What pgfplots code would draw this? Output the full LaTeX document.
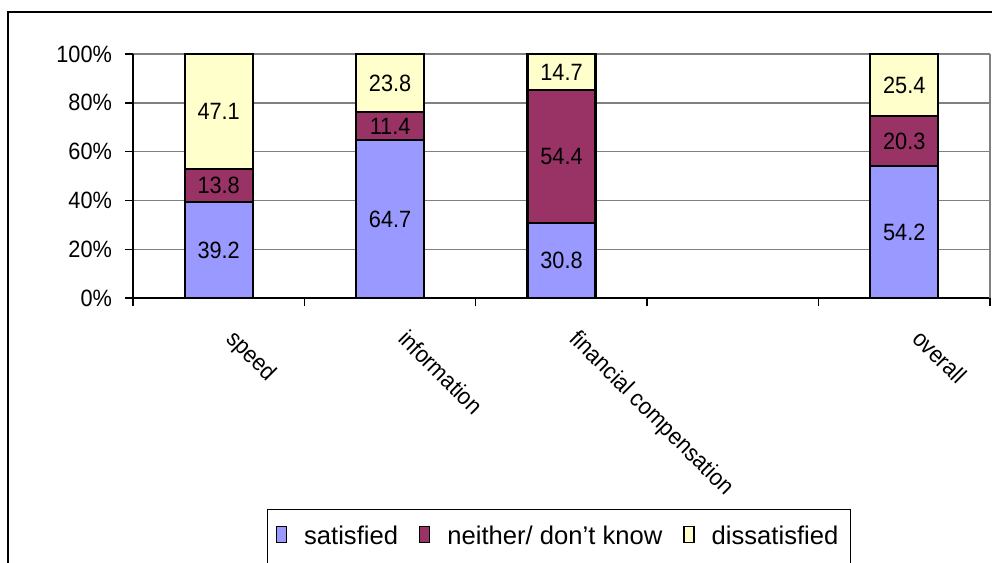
\documentclass[border=0pt]{standalone}
\usepackage{fontspec}
\setmainfont{Liberation Sans}
\newfontfamily\narrowsans{Liberation Sans}[FakeStretch=0.92]
\usepackage{pgfplots}
\pgfplotsset{compat=1.18}
\usepackage{pgfplotstable}

\definecolor{satblue}{HTML}{9999FF}
\definecolor{neiplum}{HTML}{993366}
\definecolor{disyellow}{HTML}{FFFFCC}

% share of respondents (%) per aspect; slot 3 is left empty
\pgfplotstableread{
x sat nei dis
0 39.2 13.8 47.1
1 64.7 11.4 23.8
2 30.8 54.4 14.7
4 54.2 20.3 25.4
}\satisfaction

\begin{document}
\begin{tikzpicture}
\begin{scope}
\clip (-66.5pt,-132.5pt) rectangle (429.5pt,149pt);
\draw[line width=0.7pt] (-62.5pt,143pt) rectangle (445pt,-145pt);
\begin{axis}[
  scale only axis, width=428.5pt, height=122pt,
  ybar stacked, bar width=34pt,
  xmin=-0.5, xmax=4.5, ymin=0, ymax=100,
  clip=false,
  axis lines*=left,
  axis line style={-, line width=0.7pt, black},
  xtick={-0.5,0.5,1.5,2.5,3.5,4.5},
  xticklabels={},
  extra x ticks={0,1,2,4},
  extra x tick labels={speed,information,financial compensation,overall},
  extra x tick style={major tick length=0pt, grid=none},
  ytick={0,20,...,100},
  yticklabel={\pgfmathprintnumber{\tick}\%},
  /pgf/number format/assume math mode=true,
  tick align=outside,
  major tick length=4pt,
  tick style={black, line width=0.7pt},
  ymajorgrids,
  major grid style={gray, line width=0.7pt},
  tick label style={font=\narrowsans\fontsize{11.8pt}{13pt}\selectfont},
  yticklabel style={xshift=-3pt},
  xticklabel style={xshift=9.5pt, yshift=-10pt, rotate=-45, anchor=north west},
  point meta=explicit symbolic,
  nodes near coords,
  every node near coord/.append style={
    font=\narrowsans\fontsize{11.8pt}{13pt}\selectfont, anchor=center},
  every axis plot/.append style={draw=black, line width=1.1pt},
  legend columns=3,
  legend style={at={(0.1564,-0.865)}, anchor=north west, draw=black,
    line width=0.7pt, inner xsep=4pt, inner ysep=6pt,
    font=\fontsize{12.8pt}{14pt}\selectfont,
    /tikz/every odd column/.append style={column sep=6.5pt},
    /tikz/every even column/.append style={column sep=8.5pt}},
  every axis plot post/.append style={
    legend image code/.code={\draw[#1, draw=black, line width=0.7pt] (0pt,-3pt) rectangle (5pt,5pt);}},
]
\addplot[fill=satblue] table[x=x, y=sat, meta=sat] {\satisfaction};
\addplot[fill=neiplum] table[x=x, y=nei, meta=nei] {\satisfaction};
\addplot[fill=disyellow] table[x=x, y=dis, meta=dis] {\satisfaction};
\legend{satisfied, neither/ don't know, dissatisfied}
\draw[gray, line width=0.7pt] (rel axis cs:1,0) -- (rel axis cs:1,1);
\end{axis}
\end{scope}
\pgfresetboundingbox
\path[use as bounding box] (-66.5pt,-132.5pt) rectangle (429.5pt,149pt);
\end{tikzpicture}
\end{document}
